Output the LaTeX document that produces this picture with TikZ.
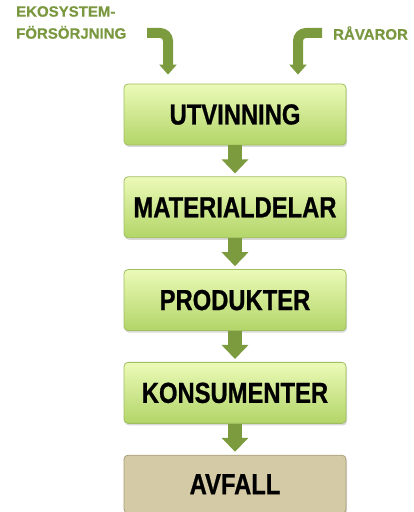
\documentclass[tikz,border=0pt]{standalone}
\usepackage{fontspec}
\setmainfont{Liberation Sans}
\newfontfamily\boxfont[FakeStretch=0.82,FakeBold=0.8]{Liberation Sans}
\newfontfamily\lblfont[FakeBold=0.5]{Liberation Sans}
\usetikzlibrary{positioning,arrows.meta,shadows}
\definecolor{olive}{RGB}{124,154,62}
\definecolor{lbltext}{RGB}{122,152,64}
\definecolor{boxtop}{RGB}{236,250,184}
\definecolor{boxbot}{RGB}{178,213,104}
\definecolor{boxline}{RGB}{160,190,96}
\definecolor{wastefill}{RGB}{212,202,166}
\definecolor{wasteline}{RGB}{168,158,120}
\begin{document}
\begin{tikzpicture}[x=1pt,y=1pt,node distance=31pt,
    box/.style={draw=boxline,line width=0.8pt,rounded corners=4pt,minimum width=222pt,minimum height=61pt,
        top color=boxtop,bottom color=boxbot,drop shadow={shadow xshift=1pt,shadow yshift=-2pt,opacity=0.3},
        font=\boxfont\bfseries\fontsize{29}{29}\selectfont},
    flow/.style={olive,line width=14pt,-{Triangle[width=26pt,length=14pt]},shorten >=3pt},
    feed/.style={olive,line width=10pt,-{Triangle[width=17pt,length=10pt]},rounded corners=8pt,shorten >=9pt},
    lbl/.style={lbltext,font=\lblfont\bfseries\fontsize{15}{22}\selectfont}]
        \useasboundingbox (0,0) rectangle (414,512);
        %% Labels
        \node[lbl,align=left,anchor=north west,inner sep=0pt] (eko) at (16,506) {EKOSYSTEM-\\FÖRSÖRJNING};
        \node[lbl,anchor=west,inner sep=0pt] (rav) at (333,479) {RÅVAROR};
        %% Blocks
        \node[box] (ut) at (235,397.5) {UTVINNING};
        \node[box,below=of ut] (mat) {MATERIALDELAR};
        \node[box,below=of mat] (pro) {PRODUKTER};
        \node[box,below=of pro] (kon) {KONSUMENTER};
        \node[box,below=of kon,top color=wastefill,bottom color=wastefill,draw=wasteline,minimum height=58pt] (avf) {AVFALL};
        %% inflow
        \coordinate (ekoin) at (147,479);
        \coordinate (ravin) at (322,479);
        \draw[feed] (ekoin) -| ([xshift=-67pt]ut.north);
        \draw[feed] (ravin) -| ([xshift=63pt]ut.north);
        %% chain
        \draw[flow] (ut) -- (mat);
        \draw[flow] (mat) -- (pro);
        \draw[flow] (pro) -- (kon);
        \draw[flow] (kon) -- (avf);
    \end{tikzpicture}
\end{document}
